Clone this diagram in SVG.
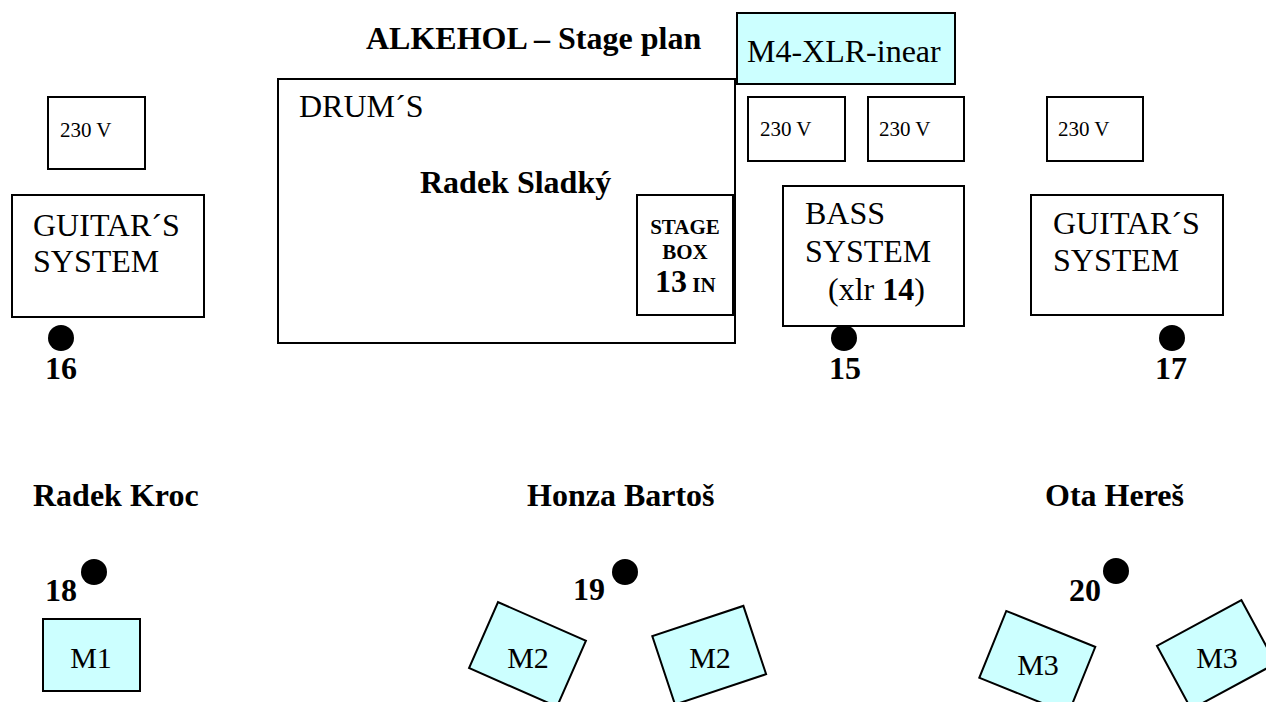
<svg xmlns="http://www.w3.org/2000/svg" width="1266" height="702" viewBox="0 0 1266 702">
<style>
text{font-family:"Liberation Serif","Times New Roman",serif;fill:#000}
.box{fill:#fff;stroke:#000;stroke-width:2}
.mon{fill:#ccffff;stroke:#000;stroke-width:2}
.t32{font-size:32px}
.t30{font-size:30px}
.t21{font-size:21px}
.b{font-weight:bold}
.dot{fill:#000}
</style>
<rect width="1266" height="702" fill="#fff"/>
<text class="t32 b" x="366" y="49">ALKEHOL – Stage plan</text>

<g id="m4">
<rect class="mon" x="737" y="13" width="218" height="71"/>
<text class="t32" x="747" y="62">M4-XLR-inear</text>
</g>

<g id="power-left">
<rect class="box" x="48" y="97" width="97" height="72"/>
<text class="t21" x="60" y="137">230 V</text>
</g>
<g id="power-1">
<rect class="box" x="748" y="97" width="97" height="64"/>
<text class="t21" x="760" y="136">230 V</text>
</g>
<g id="power-2">
<rect class="box" x="868" y="97" width="96" height="64"/>
<text class="t21" x="879" y="136">230 V</text>
</g>
<g id="power-3">
<rect class="box" x="1047" y="97" width="96" height="64"/>
<text class="t21" x="1058" y="136">230 V</text>
</g>

<g id="drums">
<rect class="box" x="278" y="79" width="457" height="264"/>
<text class="t32" x="299" y="117">DRUM´S</text>
<text class="t32 b" x="420" y="193">Radek Sladký</text>
</g>

<g id="stagebox">
<rect class="box" x="637" y="195" width="96" height="120"/>
<text class="t21 b" x="685" y="234" text-anchor="middle">STAGE</text>
<text class="t21 b" x="685" y="259" text-anchor="middle">BOX</text>
<text x="655" y="292"><tspan class="t32 b" font-size="32">13</tspan><tspan font-size="21" font-weight="bold"> IN</tspan></text>
</g>

<g id="guitar-left">
<rect class="box" x="12" y="195" width="192" height="122"/>
<text class="t32" x="33" y="236">GUITAR´S</text>
<text class="t32" x="33" y="272">SYSTEM</text>
</g>

<g id="bass">
<rect class="box" x="783" y="186" width="181" height="140"/>
<text class="t32" x="805" y="224">BASS</text>
<text class="t32" x="805" y="262">SYSTEM</text>
<text class="t32" x="828" y="300">(xlr <tspan class="b">14</tspan>)</text>
</g>

<g id="guitar-right">
<rect class="box" x="1031" y="195" width="192" height="120"/>
<text class="t32" x="1053" y="234">GUITAR´S</text>
<text class="t32" x="1053" y="271">SYSTEM</text>
</g>

<g id="mic-16">
<circle class="dot" cx="61" cy="338" r="13"/>
<text class="t32 b" x="45" y="379">16</text>
</g>
<g id="mic-15">
<circle class="dot" cx="844" cy="338" r="13"/>
<text class="t32 b" x="829" y="379">15</text>
</g>
<g id="mic-17">
<circle class="dot" cx="1172" cy="338" r="13"/>
<text class="t32 b" x="1155" y="379">17</text>
</g>

<text class="t32 b" x="33" y="506">Radek Kroc</text>
<text class="t32 b" x="527" y="506">Honza Bartoš</text>
<text class="t32 b" x="1045" y="506">Ota Hereš</text>

<g id="mic-18">
<circle class="dot" cx="94" cy="572" r="13"/>
<text class="t32 b" x="45" y="601">18</text>
</g>
<g id="mic-19">
<circle class="dot" cx="625" cy="572" r="13"/>
<text class="t32 b" x="573" y="600">19</text>
</g>
<g id="mic-20">
<circle class="dot" cx="1116" cy="571" r="13"/>
<text class="t32 b" x="1069" y="601">20</text>
</g>

<g id="monitor-m1">
<rect class="mon" x="43" y="619" width="97" height="72"/>
<text class="t30" x="91" y="668" text-anchor="middle">M1</text>
</g>
<g id="monitor-m2-left">
<rect class="mon" x="-48" y="-36" width="96" height="72" transform="translate(527.5,654.4) rotate(23.7)"/>
<text class="t30" x="528" y="668" text-anchor="middle">M2</text>
</g>
<g id="monitor-m2-right">
<rect class="mon" x="-48" y="-36" width="96" height="72" transform="translate(709.2,655.2) rotate(-18.4)"/>
<text class="t30" x="710" y="668" text-anchor="middle">M2</text>
</g>
<g id="monitor-m3-left">
<rect class="mon" x="-48" y="-36" width="96" height="72" transform="translate(1037.3,662.3) rotate(22)"/>
<text class="t30" x="1038" y="675" text-anchor="middle">M3</text>
</g>
<g id="monitor-m3-right">
<rect class="mon" x="-48" y="-36" width="96" height="72" transform="translate(1216.3,654.7) rotate(-28.4)"/>
<text class="t30" x="1217" y="668" text-anchor="middle">M3</text>
</g>

<g id="connectors"></g>
</svg>
